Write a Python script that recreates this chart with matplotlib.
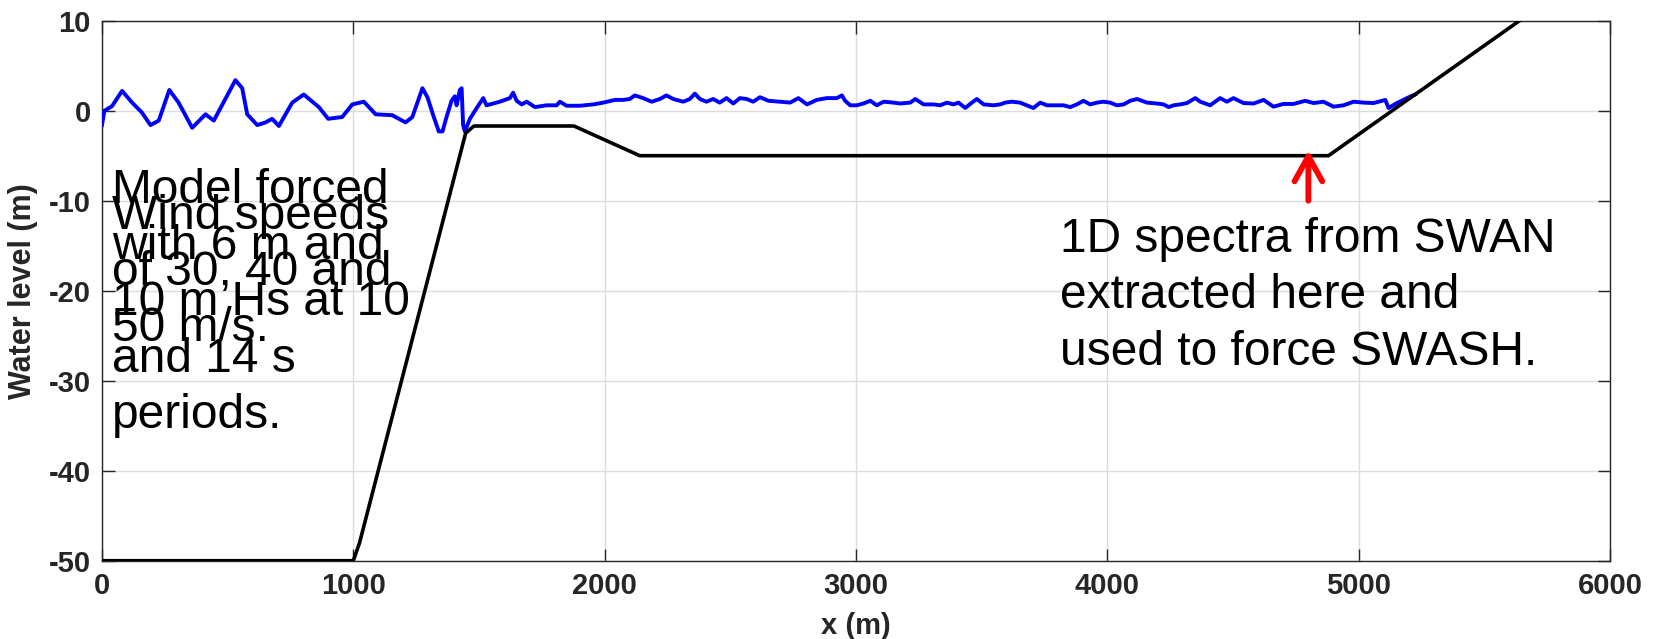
import matplotlib
matplotlib.use('Agg')
import matplotlib.pyplot as plt

# bed profile (m)
bed_x = [0, 1000, 1025, 1447, 1480, 1878, 2140, 4880, 5640]
bed_y = [-50, -50, -48, -2.5, -1.7, -1.7, -5, -5, 10]

# water surface snapshot (m)
wl_x = [0, 10, 40, 80, 120, 159, 193, 226, 268, 305, 359, 412, 445, 491, 531, 558,
        578, 618, 651, 677, 704, 757, 803, 863, 900, 956, 996, 1042, 1089, 1155, 1208,
        1235, 1275, 1295, 1318, 1340, 1355, 1371, 1391, 1404, 1411, 1424, 1431, 1437,
        1444, 1464, 1490, 1517, 1530, 1543, 1583, 1623, 1636, 1650, 1670, 1690, 1723,
        1769, 1809, 1822, 1849, 1902, 1955, 1995, 2041, 2074, 2100, 2120, 2153, 2187,
        2220, 2246, 2273, 2313, 2339, 2359, 2379, 2405, 2432, 2458, 2485, 2512, 2538,
        2565, 2591, 2618, 2652, 2698, 2738, 2771, 2805, 2844, 2884, 2924, 2944, 2957,
        2977, 3003, 3030, 3057, 3083, 3110, 3149, 3176, 3216, 3236, 3269, 3309, 3335,
        3362, 3388, 3408, 3435, 3461, 3481, 3508, 3547, 3574, 3594, 3620, 3653, 3680,
        3706, 3733, 3760, 3786, 3826, 3852, 3879, 3905, 3932, 3959, 3985, 4011, 4038,
        4065, 4091, 4118, 4158, 4197, 4224, 4244, 4264, 4290, 4317, 4350, 4370, 4409,
        4449, 4476, 4502, 4542, 4582, 4622, 4661, 4701, 4741, 4787, 4821, 4860, 4900,
        4940, 4980, 5020, 5059, 5106, 5119, 5152, 5192, 5225]
wl_y = [-1.6, 0.0, 0.5, 2.2, 0.9, -0.2, -1.6, -1.1, 2.3, 0.9, -1.9, -0.4, -1.1, 1.3, 3.4, 2.5,
        -0.4, -1.6, -1.3, -0.9, -1.7, 0.9, 1.8, 0.4, -0.9, -0.7, 0.7, 1.0, -0.4, -0.5, -1.3,
        -0.7, 2.5, 1.5, -0.5, -2.3, -2.3, -0.7, 1.1, 1.6, 0.6, 2.3, 2.5, -1.6,
        -2.3, -0.9, 0.25, 1.4, 0.6, 0.7, 1.0, 1.4, 2.0, 1.1, 0.7, 1.0, 0.4,
        0.6, 0.6, 1.0, 0.55, 0.55, 0.7, 0.9, 1.2, 1.2, 1.3, 1.7, 1.4, 1.0,
        1.3, 1.7, 1.3, 1.0, 1.3, 1.9, 1.3, 1.0, 1.3, 0.9, 1.4, 0.8, 1.4,
        1.3, 1.0, 1.5, 1.1, 1.0, 0.9, 1.4, 0.7, 1.2, 1.4, 1.4, 1.7, 1.1,
        0.6, 0.6, 0.8, 1.1, 0.6, 1.0, 0.9, 0.8, 0.9, 1.3, 0.7, 0.7, 0.6,
        0.9, 0.7, 0.9, 0.3, 0.9, 1.3, 0.7, 0.6, 0.7, 0.9, 1.0, 0.9, 0.6,
        0.3, 0.9, 0.6, 0.6, 0.6, 0.4, 0.7, 1.1, 0.7, 0.9, 1.0, 0.9, 0.6,
        0.7, 1.1, 1.3, 0.9, 0.8, 0.7, 0.4, 0.6, 0.7, 0.85, 1.4, 1.0, 0.6,
        1.4, 1.0, 1.4, 0.85, 0.8, 1.2, 0.45, 0.75, 0.75, 1.1, 0.85, 1.0, 0.45,
        0.6, 1.0, 0.9, 0.85, 1.2, 0.3, 0.85, 1.4, 1.8]

xticks = [0, 1000, 2000, 3000, 4000, 5000, 6000]
yticks = [-50, -40, -30, -20, -10, 0, 10]

# annotation text blocks
txt_model = ["Model forced", "with 6 m and", "10 m Hs at 10", "and 14 s", "periods."]
txt_wind = ["Wind speeds", "of 30, 40 and", "50 m/s."]
txt_swan = ["1D spectra from SWAN", "extracted here and", "used to force SWASH."]
arrow_x = 4800
arrow_from = -10
arrow_to = -4.4

dark = '#262626'
plt.rcParams['font.family'] = ['Liberation Sans', 'DejaVu Sans']
plt.rcParams['axes.unicode_minus'] = False

fig = plt.figure(figsize=(16.55, 6.39), dpi=100)
ax = fig.add_axes([0.0616, 0.1225, 0.9112, 0.8451])

ax.plot(wl_x, wl_y, color='#0000ff', lw=2.8, zorder=3)
ax.plot(bed_x, bed_y, color='black', lw=2.6, zorder=4)

ax.set_xlim(0, 6000)
ax.set_ylim(-50, 10)
ax.set_xticks(xticks)
ax.set_yticks(yticks)
ax.grid(True, color='#dcdcdc', lw=1.0)
ax.set_axisbelow(True)
ax.tick_params(direction='in', length=9, width=1, colors=dark, labelsize=21,
               top=True, right=True, pad=8)
for lab in ax.get_xticklabels() + ax.get_yticklabels():
    lab.set_fontweight('bold')
for s in ax.spines.values():
    s.set_color(dark)
    s.set_linewidth(1.0)

ax.set_xlabel('x (m)', fontsize=21, fontweight='bold', color=dark, labelpad=9)
ax.set_ylabel('Water level (m)', fontsize=22, fontweight='bold', color=dark, labelpad=8)

step = 6.27
for x0, y0, lines in [(40, -10.2, txt_model), (40, -13.1, txt_wind), (3810, -15.7, txt_swan)]:
    for i, line in enumerate(lines):
        ax.text(x0, y0 - i * step, line, fontsize=34.5, color='black',
                va='baseline', ha='left', zorder=6)

ax.annotate('', xy=(arrow_x, arrow_to), xytext=(arrow_x, arrow_from),
            arrowprops=dict(arrowstyle='->,head_length=0.9,head_width=0.5',
                            color='#ff0000', lw=4.2, mutation_scale=20,
                            shrinkA=0, shrinkB=0, capstyle='round'),
            zorder=7)

fig.savefig('out.png', dpi=100)
